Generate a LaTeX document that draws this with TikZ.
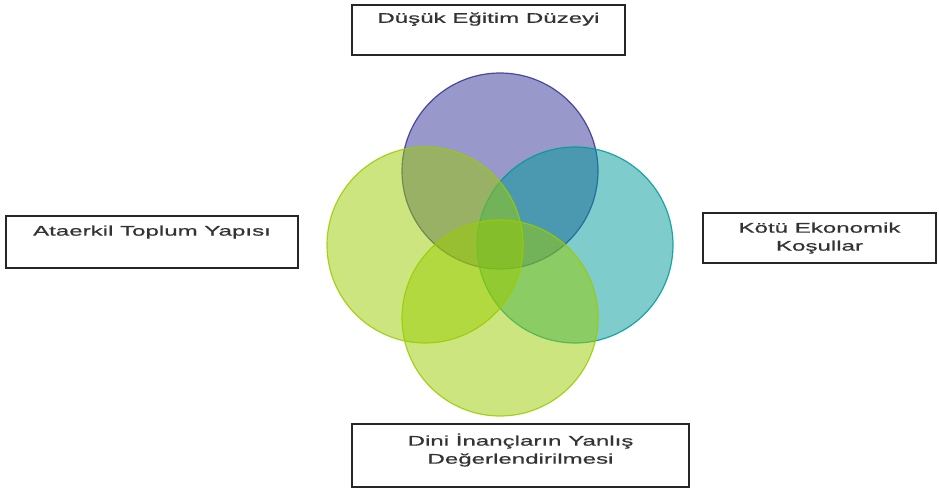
\documentclass[tikz,border=0pt]{standalone}
\usepackage{fontspec}
\setmainfont[FakeStretch=1.72,FakeBold=0.7]{Liberation Sans}
\usepackage{xcolor}
\usepackage{tikz}
\usetikzlibrary{positioning}
\definecolor{vennpurple}{RGB}{50,50,150}
\definecolor{vennteal}{RGB}{0,153,153}
\definecolor{venngreen}{RGB}{153,204,0}
\tikzset{
   ring/.style={circle,minimum size=196,inner sep=0,line width=1.2,fill opacity=0.5,draw opacity=0.85},
   frame/.style={rectangle,draw=black!85,line width=1.4,inner sep=0},
 }
\begin{document}
\begin{tikzpicture}[
      x=1pt,y=-1pt,
      lbl/.style={font=\fontsize{14}{18}\selectfont,text=black!80,align=center,inner sep=0},
      ]
      \useasboundingbox (0,0) rectangle (939,489);
      % circles
      \node (top) [ring,draw=vennpurple,fill=vennpurple] at (500,171) {};
      \node (right) [ring,draw=vennteal,fill=vennteal] at (575,245) {};
      \node (bottom) [ring,draw=venngreen,fill=venngreen] at (500,318) {};
      \node (left) [ring,draw=venngreen,fill=venngreen] at (425,245) {};
      % boxes
      \node (edubox) [frame,minimum width=273,minimum height=50] at (488.5,30) {};
      \node (patbox) [frame,minimum width=292,minimum height=52] at (152,242) {};
      \node (ecobox) [frame,minimum width=233,minimum height=50] at (819.5,238) {};
      \node (relbox) [frame,minimum width=337,minimum height=63] at (520.5,455.5) {};
      \node (edu) [lbl,below=8pt of edubox.north] {Düşük Eğitim Düzeyi};
      \node (pat) [lbl,below=10pt of patbox.north] {Ataerkil Toplum Yapısı};
      \node (eco) [lbl,below=10pt of ecobox.north] {Kötü Ekonomik\\Koşullar};
      \node (rel) [lbl,below=10pt of relbox.north] {Dini İnançların Yanlış\\Değerlendirilmesi};
\end{tikzpicture}
\end{document}
